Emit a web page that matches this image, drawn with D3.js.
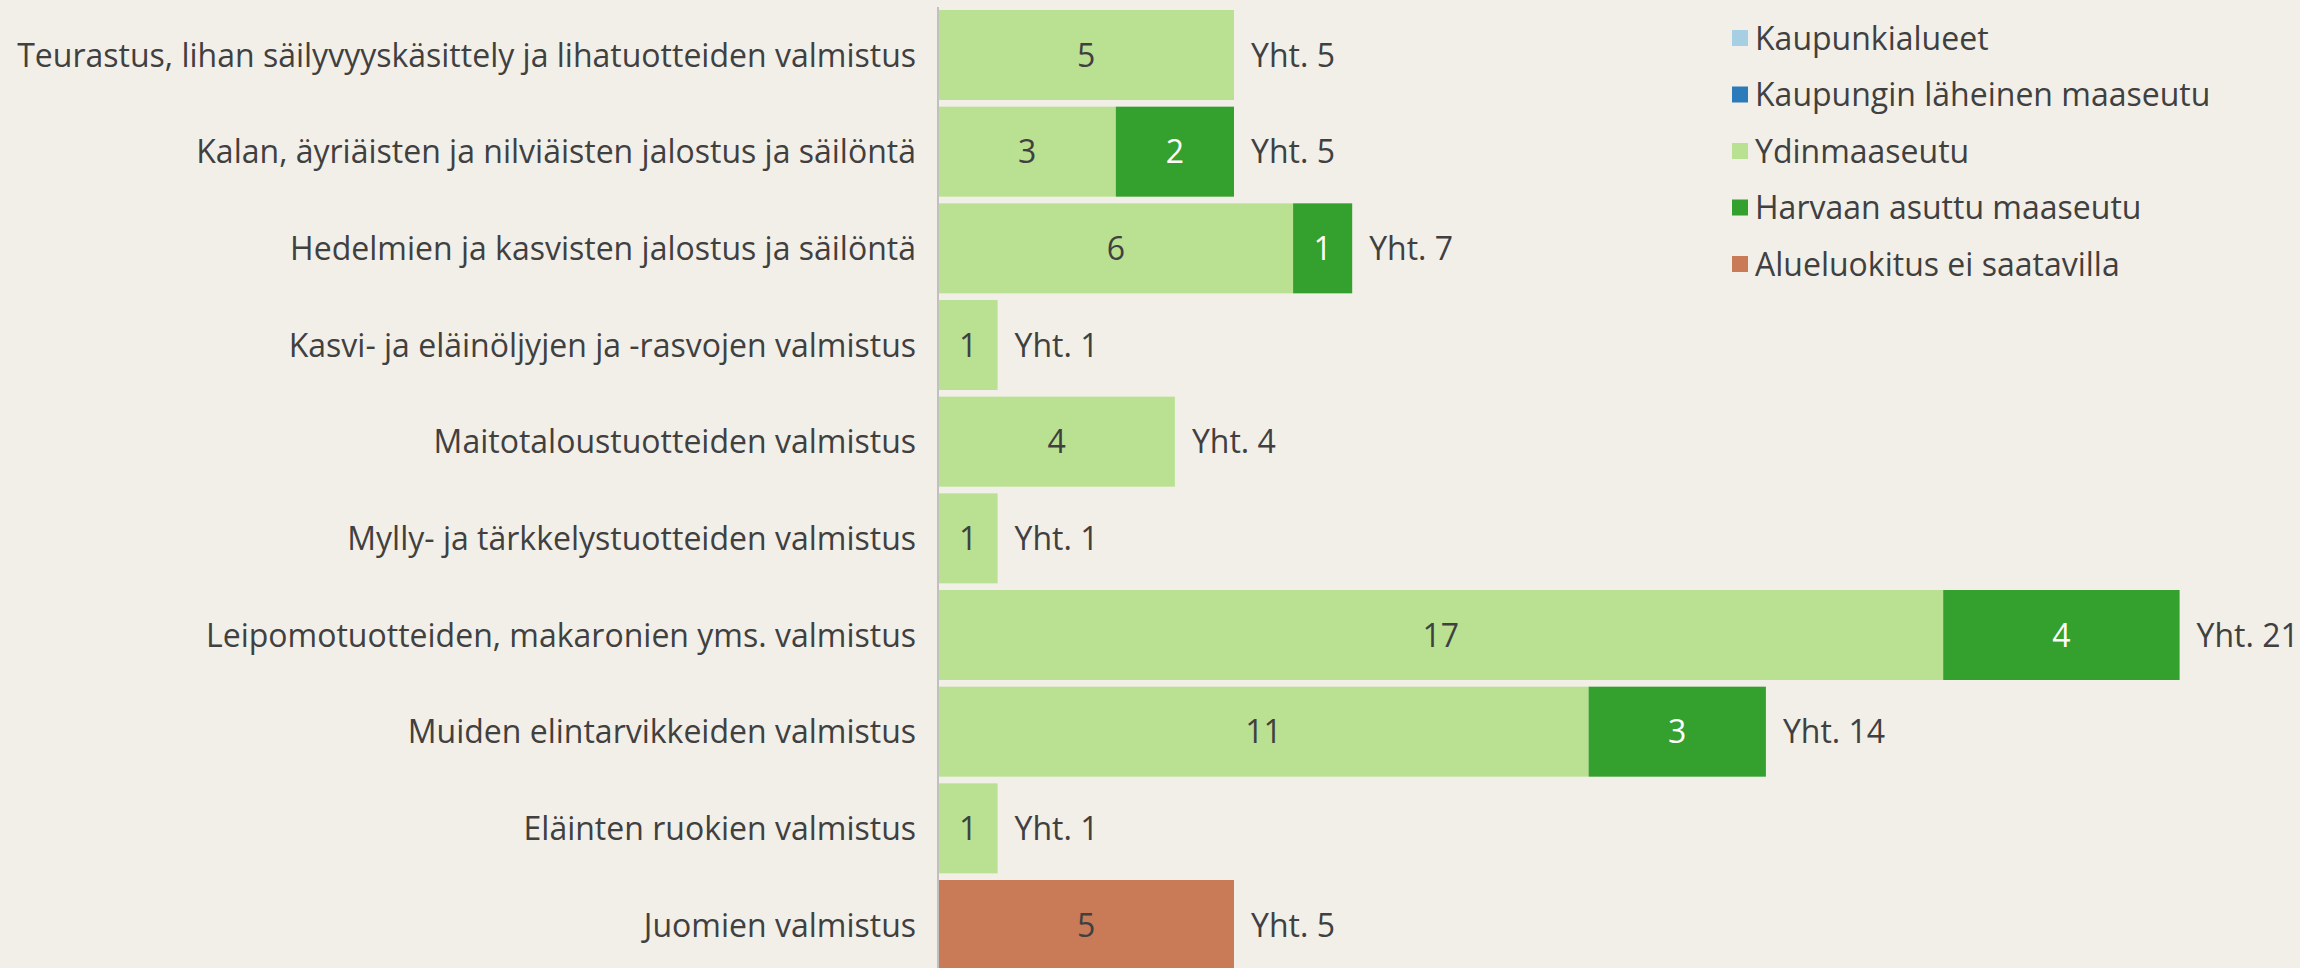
<!DOCTYPE html>
<html>
<head>
<meta charset="utf-8">
<script src="https://cdn.jsdelivr.net/npm/d3@7"></script>
<style>
  html, body { margin: 0; padding: 0; background: #f2efe8; }
  svg { display: block; }
  text { font-family: "Open Sans", "Noto Sans", sans-serif; fill: #404040; }
</style>
</head>
<body>
<svg id="chart" width="2300" height="968"></svg>
<script>
const categories = [
  "Teurastus, lihan säilyvyyskäsittely ja lihatuotteiden valmistus",
  "Kalan, äyriäisten ja nilviäisten jalostus ja säilöntä",
  "Hedelmien ja kasvisten jalostus ja säilöntä",
  "Kasvi- ja eläinöljyjen ja -rasvojen valmistus",
  "Maitotaloustuotteiden valmistus",
  "Mylly- ja tärkkelystuotteiden valmistus",
  "Leipomotuotteiden, makaronien yms. valmistus",
  "Muiden elintarvikkeiden valmistus",
  "Eläinten ruokien valmistus",
  "Juomien valmistus"
];
const seriesNames = [
  "Kaupunkialueet",
  "Kaupungin läheinen maaseutu",
  "Ydinmaaseutu",
  "Harvaan asuttu maaseutu",
  "Alueluokitus ei saatavilla"
];
const kaupunkialueet   = [0, 0, 0, 0, 0, 0, 0, 0, 0, 0];
const kaupunginLaheinen = [0, 0, 0, 0, 0, 0, 0, 0, 0, 0];
const ydinmaaseutu     = [5, 3, 6, 1, 4, 1, 17, 11, 1, 0];
const harvaanAsuttu    = [0, 2, 1, 0, 0, 0, 4, 3, 0, 0];
const eiSaatavilla     = [0, 0, 0, 0, 0, 0, 0, 0, 0, 5];
const seriesColors = ["#a6cfe4", "#2b7bba", "#bae192", "#34a02d", "#c87b56"];
const labelColors  = ["#404040", "#ffffff", "#404040", "#ffffff", "#404040"];
const totalPrefix = "Yht. ";

const seriesValues = [kaupunkialueet, kaupunginLaheinen, ydinmaaseutu, harvaanAsuttu, eiSaatavilla];
const rows = categories.map((c, i) => {
  const r = { category: c };
  seriesNames.forEach((s, j) => r[s] = seriesValues[j][i]);
  return r;
});
const stacked = d3.stack().keys(seriesNames)(rows);
const totals = rows.map(r => d3.sum(seriesNames, s => r[s]));

const svg = d3.select("#chart");
const FS = 32;

const x = d3.scaleLinear().domain([0, 21]).range([938.5, 938.5 + 21 * 59.1]);
const y = d3.scaleBand().domain(categories).range([10, 970]).paddingInner(0.069).paddingOuter(0);

// bars
const g = svg.append("g");
stacked.forEach((layer, j) => {
  const lg = g.append("g").attr("fill", seriesColors[j]);
  lg.selectAll("rect").data(layer).join("rect")
    .attr("x", d => x(d[0]))
    .attr("y", (d, i) => y(categories[i]))
    .attr("width", d => x(d[1]) - x(d[0]))
    .attr("height", y.bandwidth());
  g.append("g").selectAll("text").data(layer.filter(d => d[1] - d[0] > 0)).join("text")
    .attr("x", d => (x(d[0]) + x(d[1])) / 2)
    .attr("y", d => y(d.data.category) + y.bandwidth() / 2)
    .attr("dy", "0.36em")
    .attr("text-anchor", "middle")
    .style("fill", labelColors[j])
    .style("font-size", FS + "px")
    .text(d => d[1] - d[0]);
});

// totals
svg.append("g").selectAll("text").data(categories).join("text")
  .attr("x", (c, i) => x(totals[i]) + 17)
  .attr("y", c => y(c) + y.bandwidth() / 2)
  .attr("dy", "0.36em")
  .style("font-size", FS + "px")
  .text((c, i) => totalPrefix + totals[i]);

// y axis
const yAxis = svg.append("g").attr("transform", `translate(${x(0) - 0.5},0)`)
  .call(d3.axisLeft(y).tickSize(0).tickPadding(22));
yAxis.select(".domain").attr("d", "M0,7V968").attr("stroke", "#c0c0c0").attr("stroke-width", 2);
yAxis.selectAll(".tick text")
  .style("font-size", FS + "px")
  .style("font-family", '"Open Sans", "Noto Sans", sans-serif')
  .attr("fill", "#404040")
  .attr("dy", "0.36em");

// legend
const legend = svg.append("g").attr("transform", "translate(1732,30)");
const li = legend.selectAll("g").data(seriesNames).join("g")
  .attr("transform", (d, i) => `translate(0,${i * 56.5})`);
li.append("rect").attr("width", 16).attr("height", 16).attr("fill", (d, i) => seriesColors[i]);
li.append("text").attr("x", 23).attr("y", 8).attr("dy", "0.36em")
  .style("font-size", FS + "px").text(d => d);
</script>
</body>
</html>
